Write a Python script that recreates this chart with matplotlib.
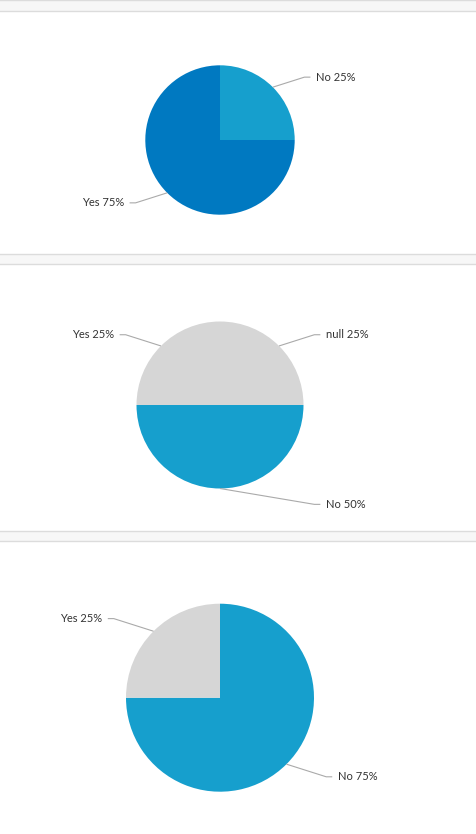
import numpy as np
import matplotlib.pyplot as plt
from matplotlib.patches import Rectangle

W, H = 476, 834

# --- data
labels1 = ['No', 'Yes']
values1 = [25, 75]
colors1 = ['#169fcd', '#0079c1']

labels2 = ['null', 'No', 'Yes']
values2 = [25, 50, 25]
colors2 = ['#d6d6d6', '#169fcd', '#d6d6d6']

labels3 = ['No', 'Yes']
values3 = [75, 25]
colors3 = ['#169fcd', '#d6d6d6']

plt.rcParams['font.family'] = ['Lato', 'DejaVu Sans']

fig = plt.figure(figsize=(W/100, H/100), dpi=100)

# gray separator bands (top, between panels)
for y0, y1 in [(0, 10.5), (254, 263.5), (531, 540.5)]:
    fig.patches.append(Rectangle((-0.01, 1-y1/H), 1.02, (y1-y0)/H,
                                 transform=fig.transFigure, facecolor='#f7f7f7',
                                 edgecolor='#dcdcdc', linewidth=1))


def panel(top, bottom, cx, cy, r, labels, values, colors):
    ax = fig.add_axes([0, 1-bottom/H, 1, (bottom-top)/H])
    wedges, _ = ax.pie(values, colors=colors, startangle=90, counterclock=False,
                       radius=1, wedgeprops=dict(linewidth=0))
    ax.set_aspect('auto')
    ax.set_xlim(-cx/r, (W-cx)/r)
    ax.set_ylim(-(bottom-cy)/r, (cy-top)/r)
    ax.axis('off')
    px = 1.0/r
    total = float(sum(values))
    for w, lab, v in zip(wedges, labels, values):
        m = np.deg2rad((w.theta1 + w.theta2)/2)
        ex, ey = np.cos(m), np.sin(m)
        side = 1 if ex > -1e-6 else -1
        ly = 1.19*ey
        elx = side*1.13
        hx = elx + side*6*px
        ax.plot([ex, elx, hx], [ey, ly, ly], color='#aaaaaa', lw=0.8,
                solid_capstyle='butt', clip_on=False)
        ax.text(hx + side*5.5*px, ly, '%s %d%%' % (lab, round(100*v/total)),
                ha='left' if side > 0 else 'right', va='center',
                fontsize=8, color='#333333')
    return ax


panel(11, 254, 220, 140, 74.7, labels1, values1, colors1)
panel(264, 531, 220, 405, 83.5, labels2, values2, colors2)
panel(541, 834, 220, 697.7, 94, labels3, values3, colors3)

fig.savefig('out.png', dpi=100, facecolor='white')
